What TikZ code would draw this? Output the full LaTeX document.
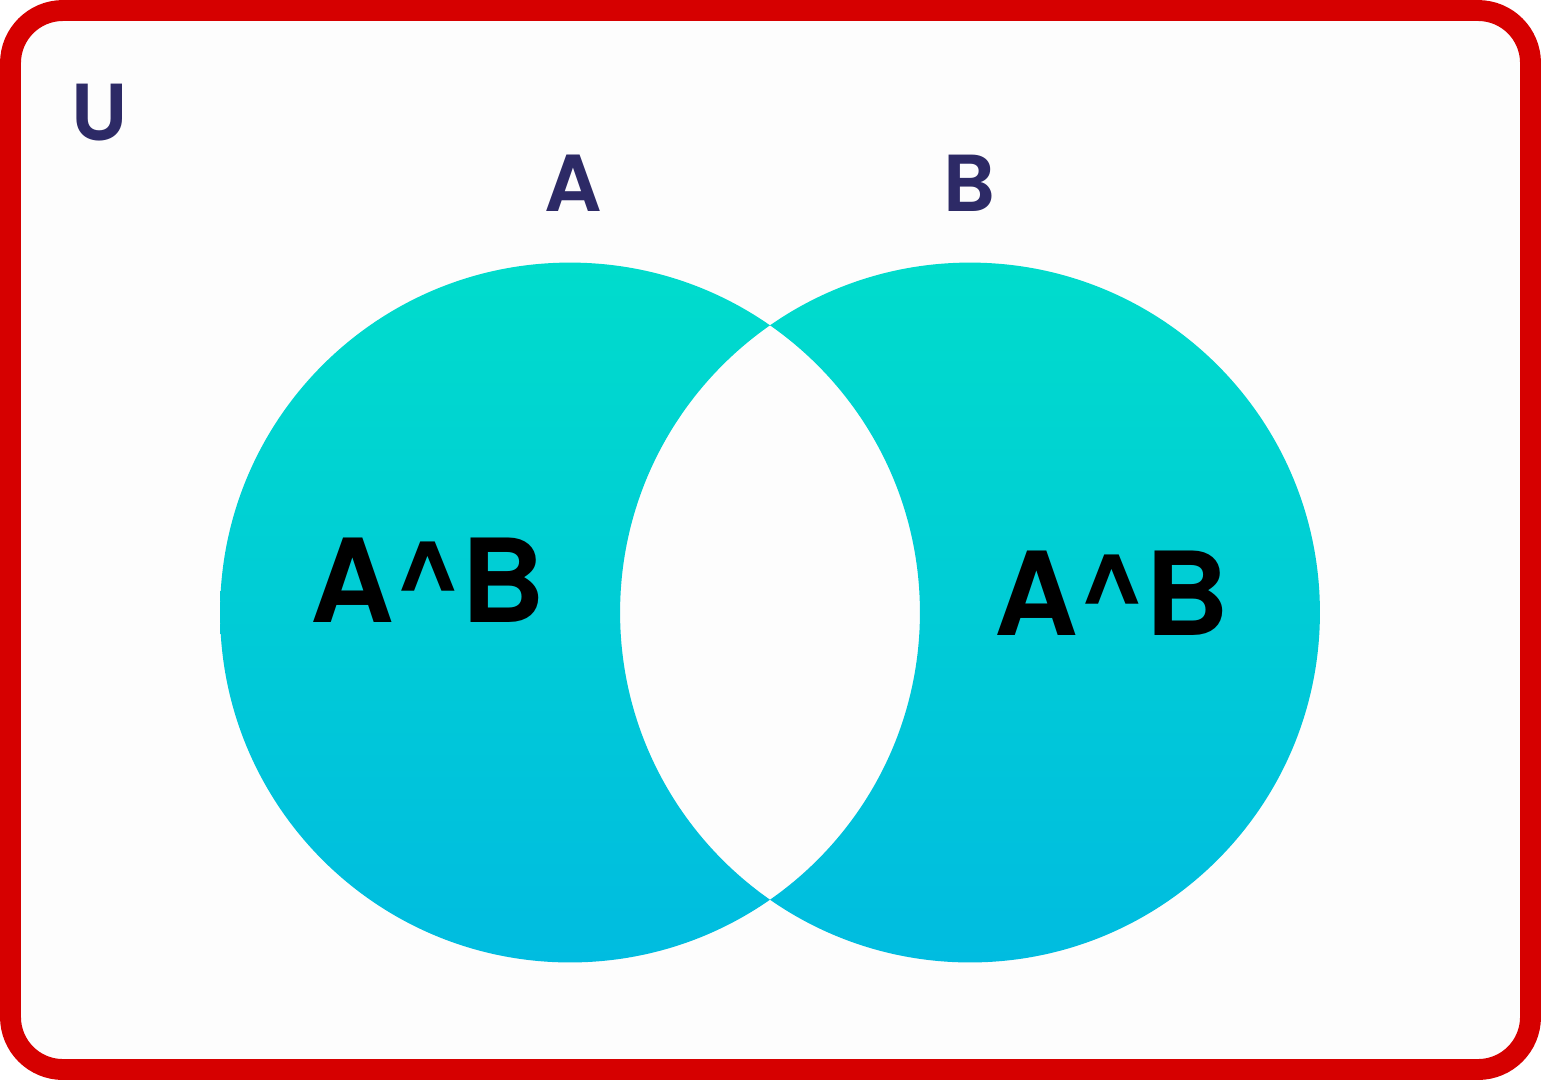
\documentclass[tikz,border=0pt]{standalone}
\usepackage{fontspec}
\newfontfamily\setfont{Poppins}[UprightFont=* SemiBold]
\newfontfamily\boldfont{TeX Gyre Heros}
\definecolor{frame}{HTML}{D60000}
\definecolor{navy}{HTML}{2D2A66}
\definecolor{tealtop}{HTML}{00DCCC}
\definecolor{tealbot}{HTML}{00BCE0}
\definecolor{paper}{HTML}{FDFDFD}

\begin{document}
\begin{tikzpicture}[x=0.02cm, y=-0.02cm,
  setlabel/.style={text=navy, font=\setfont\fontsize{46}{46}\selectfont, inner sep=0pt},
  difflabel/.style={text=black, font=\boldfont\bfseries\fontsize{66}{66}\selectfont, inner sep=0pt}]

% Page size in pixels
\useasboundingbox (0,0) rectangle (1541,1080);

% Parameters
\def\r{7cm}     % circle radius (350 px)
\def\yC{612.5}  % centre line of both circles

\coordinate (cA) at (570,\yC);
\coordinate (cB) at (970,\yC);

% Universe frame
\draw[frame, fill=paper, line width=11.9pt, rounded corners=1.05cm]
    (10.5,10.5) rectangle (1530.5,1069.5);

% Symmetric difference, shaded
\begin{scope}[even odd rule]
  \clip ([yshift=\r]cA) arc[start angle=90, end angle=450, radius=\r] -- cycle
        ([yshift=\r]cB) arc[start angle=90, end angle=450, radius=\r] -- cycle;
  \shade[top color=tealtop, bottom color=tealbot]
      (150,262.5) rectangle (1390,962.5);
\end{scope}

% Labels
\node[setlabel] (U) at (100,113) {U};
\node[setlabel] (A) at (573,183) {A};
\node[setlabel] (B) at (969,183) {B};

\node[difflabel] (onlyA) at (428,580) {A\textasciicircum B};
\node[difflabel] (onlyB) at (1112,593) {A\textasciicircum B};

\end{tikzpicture}
\end{document}
